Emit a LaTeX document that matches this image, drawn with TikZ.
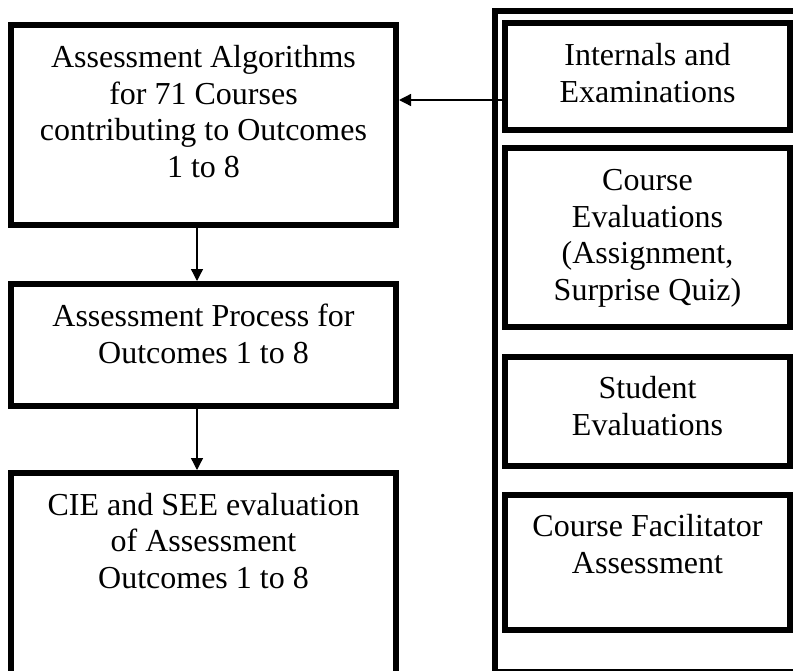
\documentclass[tikz,border=0pt]{standalone}
\usepackage{fontspec}
\setmainfont{Liberation Serif}
\usetikzlibrary{arrows.meta}
\begin{document}
\begin{tikzpicture}[x=1pt,y=-1pt,
  box/.style={draw=black,line width=6pt,rectangle,inner sep=0pt},
  frame/.style={draw=black,line width=6pt},
  % base anchor of a multi-line text sits on its last line
  lbl/.style={align=center,inner sep=0pt,anchor=base,
    font=\fontsize{32}{36.5}\selectfont},
  link/.style={line width=1.3pt,-{Triangle[length=12pt,width=12pt]}}]
\useasboundingbox (0,0) rectangle (793,670);
\clip (0,0) rectangle (793,670);

% left column
\node[box,minimum width=385pt,minimum height=200pt] (b1) at (203.5,125) {};
\node[box,minimum width=385pt,minimum height=122pt] (b2) at (203.5,345) {};
\node[box,minimum width=385pt,minimum height=227pt] (b3) at (203.5,586.5) {};

% right column: surrounding frame and its four boxes
\draw[frame] (800,672) -- (495,672) -- (495,11) -- (800,11);
\node[box,minimum width=285pt,minimum height=107pt] (ra) at (647.5,76.5) {};
\node[box,minimum width=285pt,minimum height=179pt] (rb) at (647.5,237.5) {};
\node[box,minimum width=285pt,minimum height=109pt] (rc) at (647.5,411.5) {};
\node[box,minimum width=285pt,minimum height=135pt] (rd) at (647.5,562.5) {};

% texts
\node[lbl] (t1) at (203.5,177) {Assessment Algorithms\\for 71 Courses\\contributing to Outcomes\\1 to 8};
\node[lbl] (t2) at (203.5,363) {Assessment Process for\\Outcomes 1 to 8};
\node[lbl] (t3) at (203.5,588) {CIE and SEE evaluation\\of Assessment\\Outcomes 1 to 8};
\node[lbl] (ta) at (647.5,102) {Internals and\\Examinations};
\node[lbl] (tb) at (647.5,300) {Course\\Evaluations\\(Assignment,\\Surprise Quiz)};
\node[lbl] (tc) at (647.5,435) {Student\\Evaluations};
\node[lbl] (td) at (647.5,573) {Course Facilitator\\Assessment};

% connectors
\draw[link] (ra.west |- 0,100) -- (b1.east |- 0,100);
\draw[link] ([xshift=-6.5pt]b1.south) -- ([xshift=-6.5pt]b2.north);
\draw[link] ([xshift=-6.5pt]b2.south) -- ([xshift=-6.5pt]b3.north);
\end{tikzpicture}
\end{document}
